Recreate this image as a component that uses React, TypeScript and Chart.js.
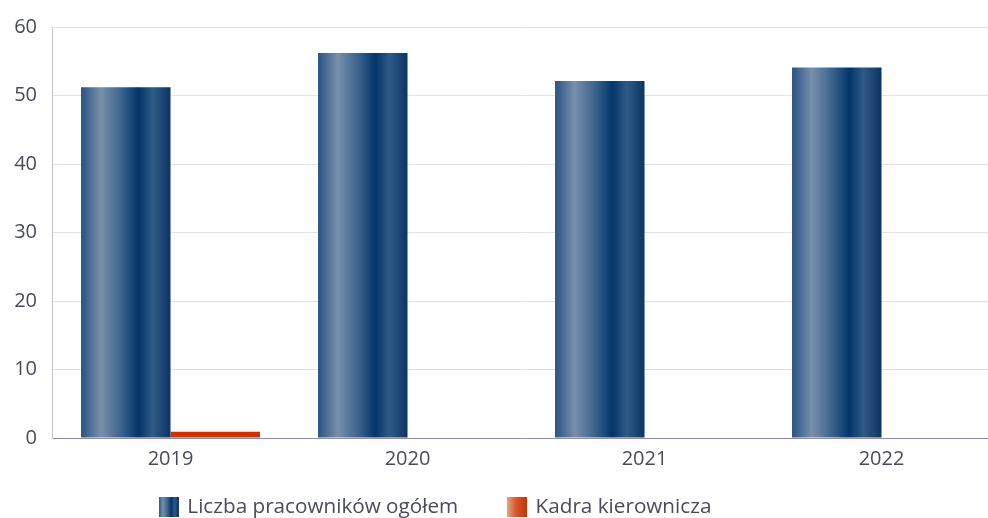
import React, { useEffect, useRef } from "react";
import { Chart, registerables } from "chart.js";

Chart.register(...registerables);

const categories = ["2019", "2020", "2021", "2022"];
const totalEmployees = [51.2, 56.2, 52.1, 54.1];
const management = [0.9, 0, 0, 0];
const seriesNames = ["Liczba pracowników ogółem", "Kadra kierownicza"];
const yMin = 0;
const yMax = 60;
const yStep = 10;

const FONT = "'Open Sans', 'Noto Sans', sans-serif";
const TEXT = "#4a4a5f";
const RED = "#cc3300";
const FS = 20;
const LEG_FS = 20.7;

function addBlueStops(g: CanvasGradient) {
  g.addColorStop(0, "#2a5282");
  g.addColorStop(0.22, "#7890aa");
  g.addColorStop(0.45, "#3b638d");
  g.addColorStop(0.64, "#03356a");
  g.addColorStop(0.8, "#2f5a86");
  g.addColorStop(1, "#0b3462");
}

function addRedStops(g: CanvasGradient) {
  g.addColorStop(0, "#e9a88a");
  g.addColorStop(0.45, "#d65a2e");
  g.addColorStop(1, "#cc3300");
}

function makeIcon(kind: "blue" | "red") {
  const c = document.createElement("canvas");
  c.width = 20;
  c.height = 20;
  const x = c.getContext("2d")!;
  const g = x.createLinearGradient(0, 0, 20, 0);
  if (kind === "blue") addBlueStops(g);
  else addRedStops(g);
  x.fillStyle = g;
  x.fillRect(0, 0, 20, 20);
  return c;
}

export default function App() {
  const ref = useRef<HTMLCanvasElement | null>(null);

  useEffect(() => {
    const canvas = ref.current;
    if (!canvas) return;
    const icons = [makeIcon("blue"), makeIcon("red")];
    const LEG_PAD = 50;

    const plugin = {
      id: "barGradientAndLegend",
      beforeDraw(chart: any) {
        const lg = chart.legend;
        if (lg) {
          lg.left = 160 - LEG_PAD;
          lg.top = 496.7 - LEG_PAD;
        }
      },
      beforeDatasetsDraw(chart: any) {
        const ctx = chart.ctx;
        const meta = chart.getDatasetMeta(0);
        meta.data.forEach((el: any) => {
          const { x, width } = el.getProps(["x", "width"], true);
          const g = ctx.createLinearGradient(x - width / 2, 0, x + width / 2, 0);
          addBlueStops(g);
          el.options = Object.assign({}, el.options, { backgroundColor: g });
        });
      },
    };

    const chart = new Chart(canvas, {
      type: "bar",
      data: {
        labels: categories,
        datasets: [
          {
            label: seriesNames[0],
            data: totalEmployees,
            backgroundColor: "#1f4a7a",
            borderWidth: 0,
            categoryPercentage: 0.755,
            barPercentage: 1,
          },
          {
            label: seriesNames[1],
            data: management,
            backgroundColor: RED,
            borderWidth: 0,
            categoryPercentage: 0.755,
            barPercentage: 1,
          },
        ],
      },
      options: {
        responsive: false,
        animation: false,
        devicePixelRatio: 1,
        layout: { padding: { top: 26, right: 12, bottom: 0, left: 0 } },
        plugins: {
          tooltip: { enabled: false },
          legend: {
            position: "bottom",
            align: "start",
            maxHeight: 40,
            labels: {
              usePointStyle: true,
              pointStyleWidth: 17,
              boxHeight: LEG_FS,
              padding: LEG_PAD,
              color: TEXT,
              font: { family: FONT, size: LEG_FS },
              generateLabels: (ch: any) => {
                const items = (Chart.defaults.plugins.legend.labels as any).generateLabels(ch);
                items.forEach((it: any, i: number) => {
                  it.pointStyle = icons[i];
                });
                return items;
              },
            },
          },
        },
        scales: {
          x: {
            grid: { display: false, drawTicks: false, tickLength: 0 },
            border: { display: true, color: "#8e8cb0", width: 1 },
            ticks: { color: TEXT, font: { family: FONT, size: FS }, padding: 9 },
            afterFit: (s: any) => {
              s.height = 40;
            },
          },
          y: {
            min: yMin,
            max: yMax,
            grid: { color: "#e3e1ec", lineWidth: 1, drawTicks: false, tickLength: 0 },
            border: { display: true, color: "#c5c3d9", width: 1 },
            ticks: {
              stepSize: yStep,
              color: TEXT,
              font: { family: FONT, size: FS },
              padding: 15,
            },
            afterFit: (s: any) => {
              s.width = 52;
            },
          },
        },
      },
      plugins: [plugin],
    } as any);

    return () => chart.destroy();
  }, []);

  return (
    <div
      style={{
        position: "fixed",
        left: 0,
        top: 0,
        width: 988,
        height: 518,
        overflow: "hidden",
        background: "#ffffff",
      }}
    >
      <canvas ref={ref} width={1012} height={518} style={{ display: "block", width: 1012, height: 518 }} />
    </div>
  );
}
